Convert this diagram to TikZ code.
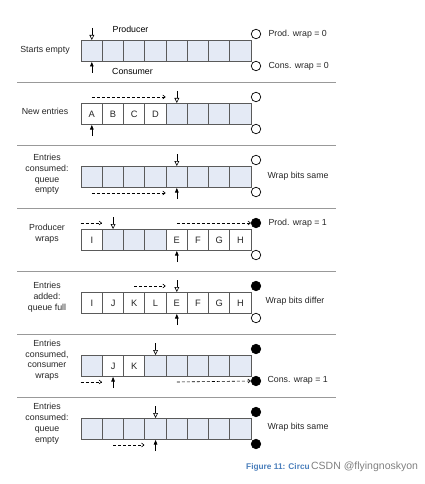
\documentclass[tikz,border=0pt]{standalone}
\usepackage{fontspec}
\setmainfont{Liberation Sans}
\usetikzlibrary{arrows.meta}
\definecolor{cellfill}{HTML}{E4EAF5}
\definecolor{cellline}{HTML}{5A5A5A}
\definecolor{capblue}{HTML}{4A7EBB}
\newcommand\bufrow[3]{%
  \foreach [count=\k from 0] \s/\t in {#3} {
    \node[cellbox,\s] (#1c\k) at ({80.7+21.25*\k},#2) {\t};
  }%
}
\begin{document}
\begin{tikzpicture}[x=1pt,y=-1pt,
  font=\fontsize{8.8}{10.7}\selectfont,
  cellbox/.style={draw=cellline, line width=1pt, minimum width=21.25pt, minimum height=21pt, inner sep=0pt, anchor=north west, text=black!85, font=\fontsize{9.3}{10}\selectfont},
  freecell/.style={fill=cellfill},
  usedcell/.style={fill=white},
  flag/.style={circle, draw=black, line width=0.7pt, fill=white, minimum size=9.5pt, inner sep=0pt},
  flagset/.style={flag, fill=black},
  prodptr/.style={-{Triangle[open,length=5pt,width=4.8pt]}, line width=0.6pt},
  consptr/.style={-{Triangle[length=4.5pt,width=3.6pt]}, line width=0.6pt},
  movearrow/.style={dash pattern=on 3pt off 2pt, -{Straight Barb[length=2.5pt,width=4pt]}, line width=0.6pt},
  sep/.style={draw=gray!80, line width=0.8pt},
  rowlabel/.style={align=center, text=black!85},
  note/.style={anchor=west, text=black!85}]
\useasboundingbox (0,0) rectangle (424,484);

% ---------- Row 1: starts empty
\bufrow{a}{40}{freecell/,freecell/,freecell/,freecell/,freecell/,freecell/,freecell/,freecell/}
\node[flag] (ap) at (256,34) {};
\node[flag] (aq) at (256,66) {};
\draw[prodptr] ([yshift=12pt]ac0.north) -- (ac0.north);
\draw[consptr] ([yshift=-11pt]ac0.south) -- (ac0.south);
\node (prodlbl) at (130.5,29) {Producer};
\node (conslbl) at (132.5,71) {Consumer};
\node[rowlabel] (al) at (45,50) {Starts empty};
\node[note] (apl) at (265,34) {Prod. wrap = 0};
\node[note] (aql) at (265,66) {Cons. wrap = 0};
\draw[sep] (17,82) -- (336,82);

% ---------- Row 2: new entries
\bufrow{b}{103}{usedcell/A,usedcell/B,usedcell/C,usedcell/D,freecell/,freecell/,freecell/,freecell/}
\node[flag] (bp) at (256,97) {};
\node[flag] (bq) at (256,129) {};
\draw[movearrow] ([yshift=6pt]bc0.north) -- ([yshift=6pt]bc4.north west);
\draw[prodptr] ([yshift=12pt]bc4.north) -- (bc4.north);
\draw[consptr] ([yshift=-11pt]bc0.south) -- (bc0.south);
\node[rowlabel] (bl) at (45,111) {New entries};
\draw[sep] (17,145) -- (336,145);

% ---------- Row 3: entries consumed, queue empty
\bufrow{c}{166}{freecell/,freecell/,freecell/,freecell/,freecell/,freecell/,freecell/,freecell/}
\node[flag] (cp) at (256,160) {};
\node[flag] (cq) at (256,192) {};
\draw[movearrow] ([yshift=-5pt]cc0.south) -- ([yshift=-5pt]cc4.south west);
\draw[prodptr] ([yshift=12pt]cc4.north) -- (cc4.north);
\draw[consptr] ([yshift=-11pt]cc4.south) -- (cc4.south);
\node[rowlabel] (cl) at (47,174.5) {Entries\\consumed:\\queue\\empty};
\node[note] (cnl) at (264,176) {Wrap bits same};
\draw[sep] (17,208) -- (336,208);

% ---------- Row 4: producer wraps
\bufrow{d}{229}{usedcell/I,freecell/,freecell/,freecell/,usedcell/E,usedcell/F,usedcell/G,usedcell/H}
\node[flagset] (dp) at (256,223) {};
\node[flag] (dq) at (256,255) {};
\draw[movearrow] ([yshift=6pt]dc0.north west) -- ([yshift=6pt]dc1.north west);
\draw[movearrow] ([yshift=6pt]dc4.north) -- (dp.west);
\draw[prodptr] ([yshift=12pt]dc1.north) -- (dc1.north);
\draw[consptr] ([yshift=-11pt]dc4.south) -- (dc4.south);
\node[rowlabel] (dl) at (47,234) {Producer\\wraps};
\node[note] (dpl) at (265,223) {Prod. wrap = 1};
\draw[sep] (17,271) -- (336,271);

% ---------- Row 5: entries added, queue full
\bufrow{e}{292}{usedcell/I,usedcell/J,usedcell/K,usedcell/L,usedcell/E,usedcell/F,usedcell/G,usedcell/H}
\node[flagset] (ep) at (256,286) {};
\node[flag] (eq) at (256,318) {};
\draw[movearrow] ([yshift=6pt]ec2.north) -- ([yshift=6pt]ec4.north west);
\draw[prodptr] ([yshift=12pt]ec4.north) -- (ec4.north);
\draw[consptr] ([yshift=-11pt]ec4.south) -- (ec4.south);
\node[rowlabel] (el) at (47,297.3) {Entries\\added:\\queue full};
\node[note] (enl) at (262,301.7) {Wrap bits differ};
\draw[sep] (17,334) -- (336,334);

% ---------- Row 6: entries consumed, consumer wraps
\bufrow{f}{355}{freecell/,usedcell/J,usedcell/K,freecell/,freecell/,freecell/,freecell/,freecell/}
\node[flagset] (fp) at (256,349) {};
\node[flagset] (fq) at (256,381) {};
\draw[movearrow] ([yshift=-5pt]fc0.south west) -- ([yshift=-5pt]fc1.south west);
\draw[movearrow] ([yshift=-5pt]fc4.south) -- (fq.west);
\draw[prodptr] ([yshift=12pt]fc3.north) -- (fc3.north);
\draw[consptr] ([yshift=-11pt]fc1.south) -- (fc1.south);
\node[rowlabel] (fl) at (47,360.3) {Entries\\consumed,\\consumer\\wraps};
\node[note] (fql) at (264,380) {Cons. wrap = 1};
\draw[sep] (17,397) -- (336,397);

% ---------- Row 7: entries consumed, queue empty
\bufrow{g}{418}{freecell/,freecell/,freecell/,freecell/,freecell/,freecell/,freecell/,freecell/}
\node[flagset] (gp) at (256,412) {};
\node[flagset] (gq) at (256,444) {};
\draw[movearrow] ([yshift=-5pt]gc1.south) -- ([yshift=-5pt]gc3.south west);
\draw[prodptr] ([yshift=12pt]gc3.north) -- (gc3.north);
\draw[consptr] ([yshift=-11pt]gc3.south) -- (gc3.south);
\node[rowlabel] (gl) at (47,423.7) {Entries\\consumed:\\queue\\empty};
\node[note] (gnl) at (264,427.3) {Wrap bits same};

% ---------- caption
\node[anchor=west, inner sep=0pt, text=capblue, font=\fontsize{8.3}{10}\selectfont\bfseries] (cap) at (246,467) {Figure 11: Circu};
\node[anchor=west, inner sep=0pt, text=gray, font=\fontsize{10.5}{11}\selectfont] (wm) at ([xshift=1pt]cap.east) {CSDN @flyingnoskyon};
\end{tikzpicture}
\end{document}
